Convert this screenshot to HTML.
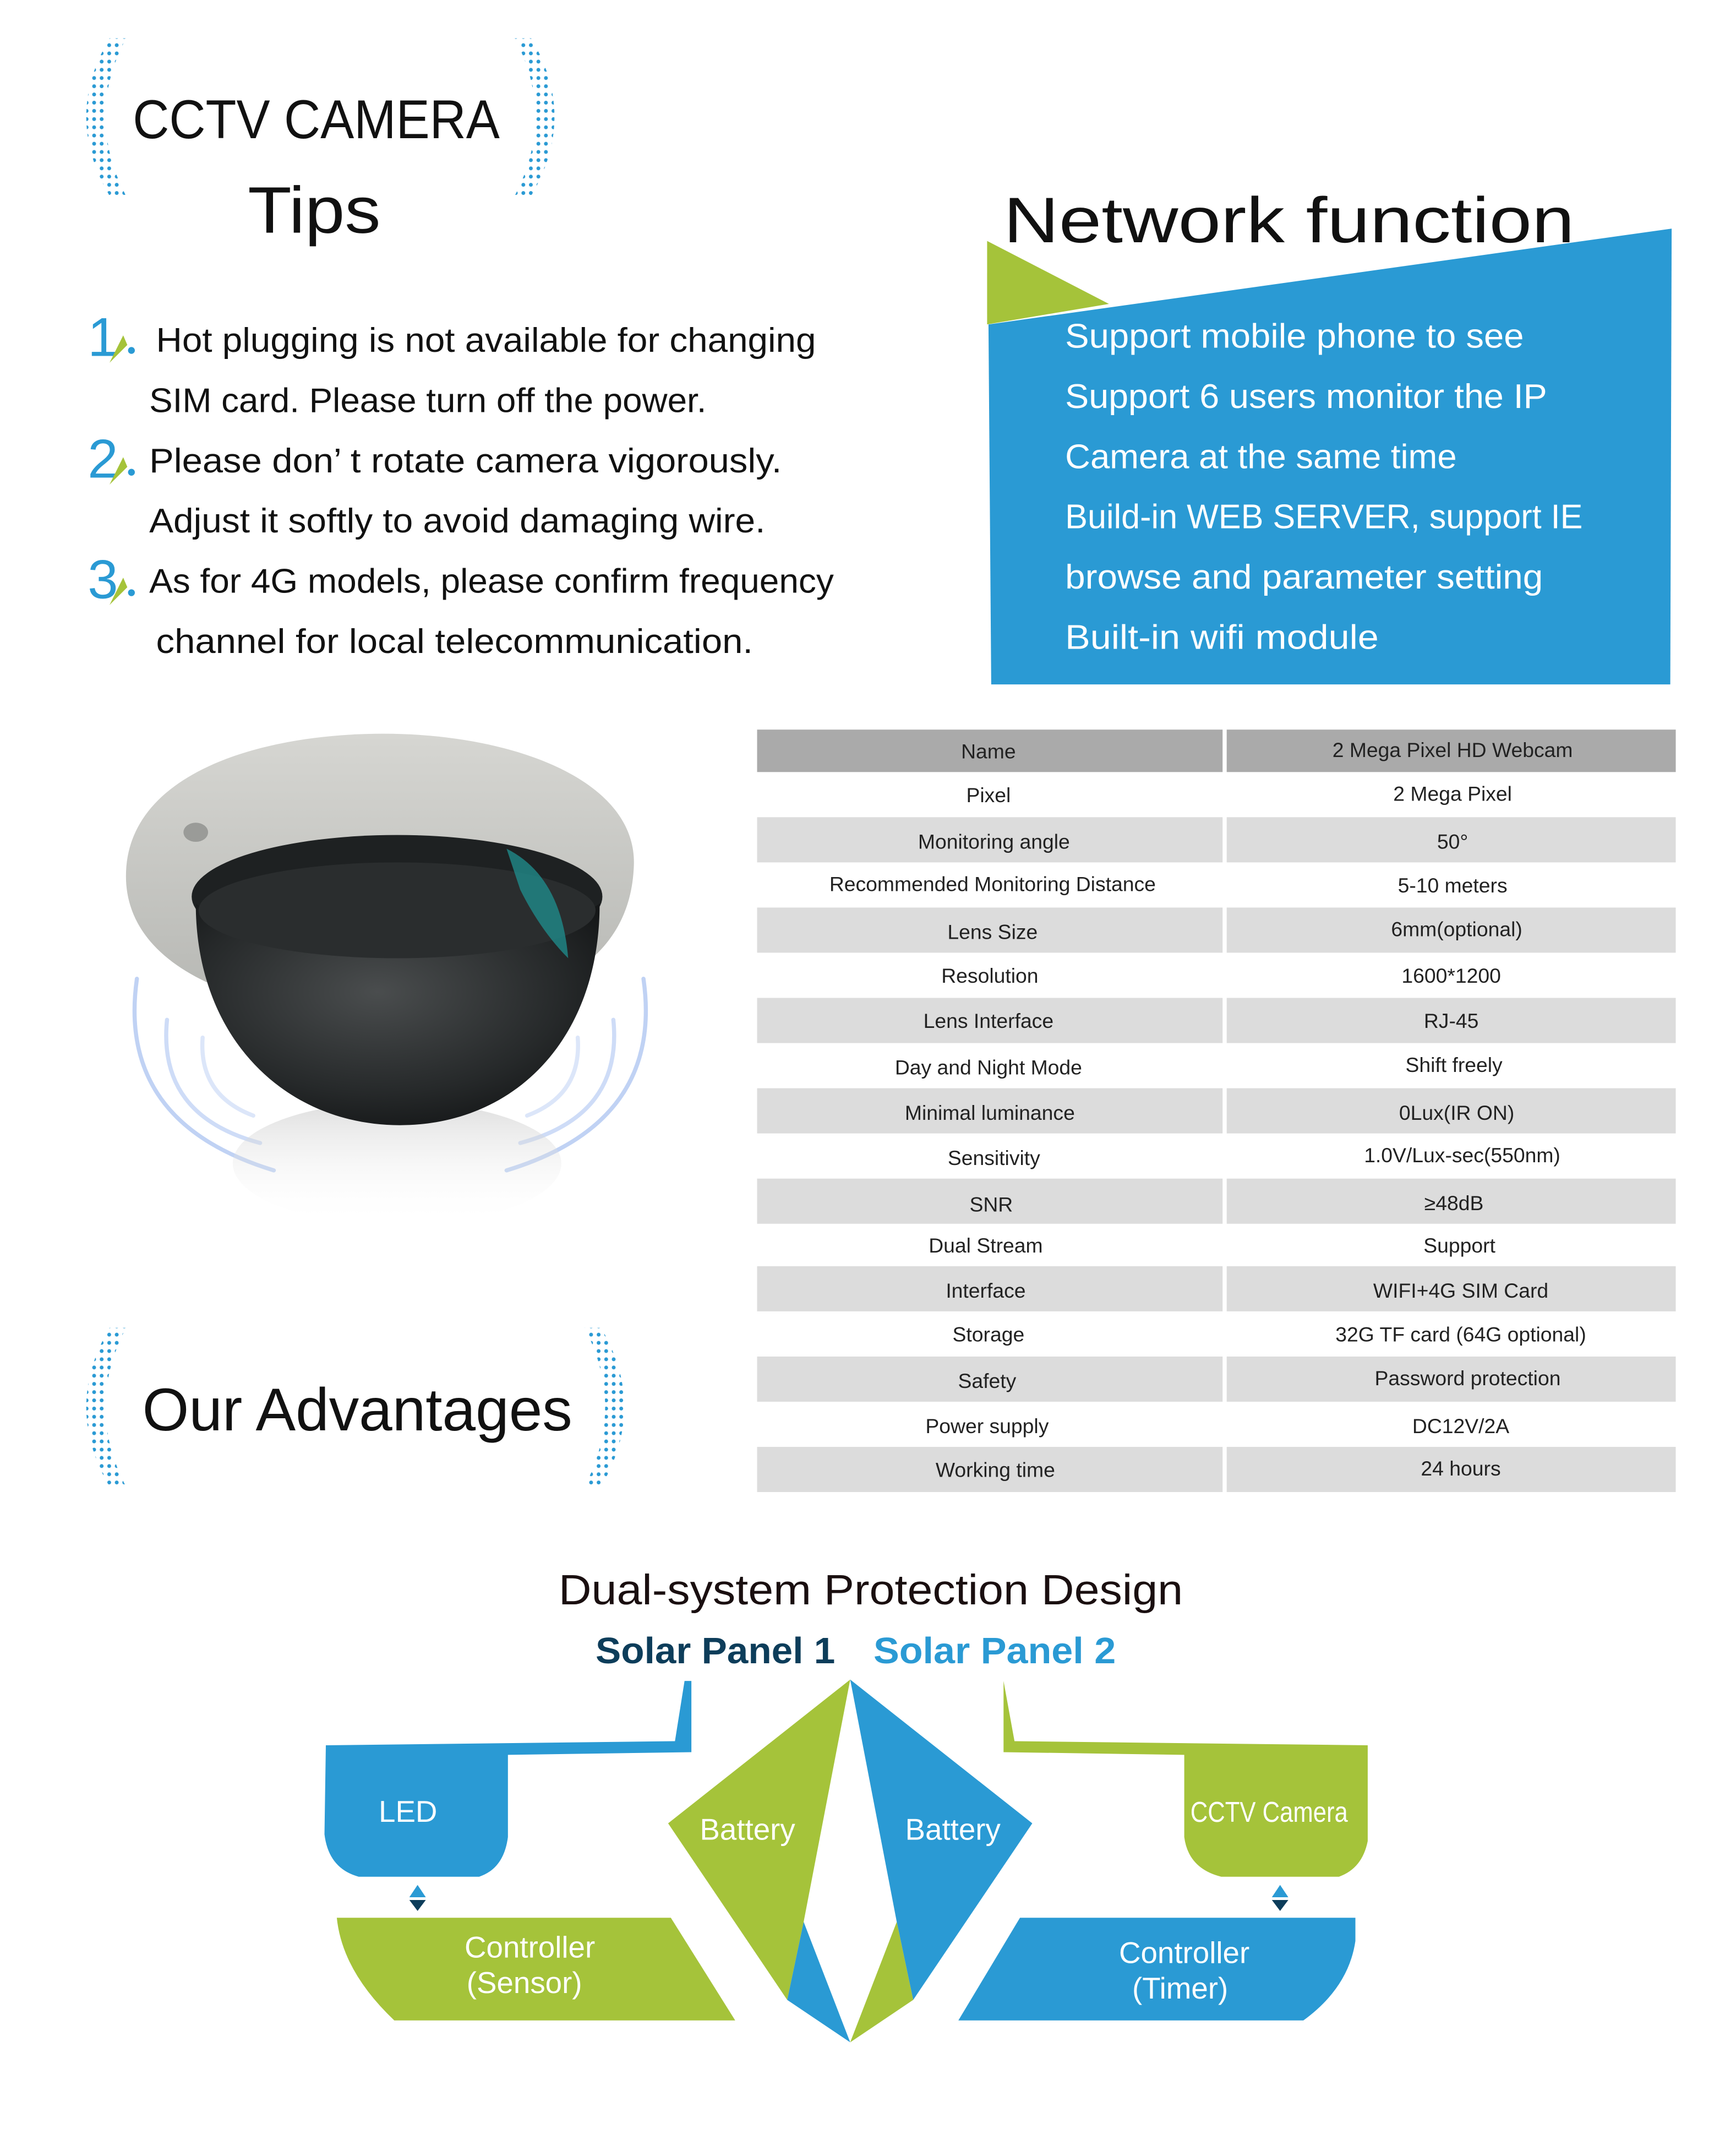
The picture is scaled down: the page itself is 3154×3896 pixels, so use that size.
<!DOCTYPE html>
<html><head><meta charset="utf-8"><style>
html,body{margin:0;padding:0;background:#fff;}
svg{display:block;}
text{font-family:"Liberation Sans",sans-serif;}
</style></head><body>
<svg width="3154" height="3896" viewBox="0 0 1268 1567" preserveAspectRatio="none" xmlns="http://www.w3.org/2000/svg">
<defs>
<pattern id="dots" width="5.5" height="6" patternUnits="userSpaceOnUse">
<circle cx="2.75" cy="3" r="1.4" fill="#2a9ad4"/>
</pattern>
<radialGradient id="dome" cx="0.45" cy="0.4" r="0.65">
<stop offset="0" stop-color="#4a4d4e"/><stop offset="0.7" stop-color="#26292a"/><stop offset="1" stop-color="#151718"/>
</radialGradient>
<linearGradient id="rim" x1="0" y1="0" x2="0" y2="1">
<stop offset="0" stop-color="#d6d6d2"/><stop offset="1" stop-color="#b5b6b2"/>
</linearGradient>
<linearGradient id="refl" x1="0" y1="0" x2="0" y2="1">
<stop offset="0" stop-color="#c8c8c8" stop-opacity="0.6"/><stop offset="1" stop-color="#fff" stop-opacity="0"/>
</linearGradient>
</defs>

<!-- bracket dots top -->
<path d="M80,28 Q46,85 80,143 L92,143 Q62,85 92,28Z" fill="url(#dots)"/>
<path d="M388,28 Q422,85 388,143 L376,143 Q406,85 376,28Z" fill="url(#dots)"/>
<text x="97" y="101" font-size="40" fill="#111" textLength="268" lengthAdjust="spacingAndGlyphs">CCTV CAMERA</text>
<text x="181" y="170" font-size="48" fill="#111" textLength="97" lengthAdjust="spacingAndGlyphs">Tips</text>

<!-- tips -->
<g font-size="25" fill="#111">
<text x="64" y="260" font-size="40" fill="#2a9ad4">1</text>
<text x="64" y="349" font-size="40" fill="#2a9ad4">2</text>
<text x="64" y="437" font-size="40" fill="#2a9ad4">3</text>
<path d="M80,265 L90,245 L93,252Z M80,354 L90,334 L93,341Z M80,442 L90,422 L93,429Z" fill="#a5c33a"/>
<circle cx="96" cy="256" r="2.5" fill="#2a9ad4"/><circle cx="96" cy="345" r="2.5" fill="#2a9ad4"/><circle cx="96" cy="433" r="2.5" fill="#2a9ad4"/>
<text x="114" y="257" textLength="482" lengthAdjust="spacingAndGlyphs">Hot plugging is not available for changing</text>
<text x="109" y="301" textLength="407" lengthAdjust="spacingAndGlyphs">SIM card. Please turn off the power.</text>
<text x="109" y="345" textLength="462" lengthAdjust="spacingAndGlyphs">Please don’  t rotate camera vigorously.</text>
<text x="109" y="389" textLength="450" lengthAdjust="spacingAndGlyphs">Adjust it softly to avoid damaging wire.</text>
<text x="109" y="433" textLength="500" lengthAdjust="spacingAndGlyphs">As for 4G models, please confirm frequency</text>
<text x="114" y="477" textLength="436" lengthAdjust="spacingAndGlyphs">channel for local telecommunication.</text>
</g>

<!-- network -->
<text x="733" y="177" font-size="47" fill="#111" textLength="417" lengthAdjust="spacingAndGlyphs">Network  function</text>
<polygon points="721,176 810,222 721,237" fill="#a5c33a"/>
<polygon points="722,237 1221,167 1220,500 724,500" fill="#2a9ad4"/>
<g font-size="25" fill="#fff">
<text x="778" y="254" textLength="335" lengthAdjust="spacingAndGlyphs">Support mobile phone to see</text>
<text x="778" y="298" textLength="352" lengthAdjust="spacingAndGlyphs">Support 6 users monitor the IP</text>
<text x="778" y="342" textLength="286" lengthAdjust="spacingAndGlyphs">Camera at the same time</text>
<text x="778" y="386" textLength="378" lengthAdjust="spacingAndGlyphs">Build-in WEB SERVER, support IE</text>
<text x="778" y="430" textLength="349" lengthAdjust="spacingAndGlyphs">browse and parameter setting</text>
<text x="778" y="474" textLength="229" lengthAdjust="spacingAndGlyphs">Built-in wifi module</text>
</g>

<!-- camera -->
<g fill="none" stroke="#b9cdf3" stroke-width="3" stroke-linecap="round">
<path d="M100,715 Q85,820 200,855" opacity="0.9"/>
<path d="M122,745 Q115,815 190,835" opacity="0.7"/>
<path d="M148,758 Q145,800 185,815" opacity="0.5"/>
<path d="M470,715 Q485,820 370,855" opacity="0.9"/>
<path d="M448,745 Q455,815 380,835" opacity="0.7"/>
<path d="M422,758 Q425,800 385,815" opacity="0.5"/>
</g>
<ellipse cx="290" cy="850" rx="120" ry="45" fill="url(#refl)"/>
<path d="M92,640 C92,565 190,536 280,536 C375,536 465,570 463,632 C461,690 420,735 290,745 C160,740 92,700 92,640Z" fill="url(#rim)"/>
<ellipse cx="290" cy="655" rx="150" ry="45" fill="#1e2122"/>
<path d="M143,660 C143,760 210,822 292,822 C375,822 438,760 438,660 C400,690 180,690 143,660Z" fill="url(#dome)"/>
<ellipse cx="290" cy="665" rx="145" ry="35" fill="#2a2d2e"/>
<path d="M370,620 Q410,640 415,700 Q395,680 380,650Z" fill="#1f8a8a" opacity="0.8"/>
<ellipse cx="143" cy="608" rx="9" ry="7" fill="#9a9b98"/>

<text x="104" y="1045" font-size="44" fill="#111" textLength="314" lengthAdjust="spacingAndGlyphs">Our  Advantages</text>
<path d="M80,970 Q46,1028 80,1086 L92,1086 Q62,1028 92,970Z" fill="url(#dots)"/>
<path d="M439,970 Q473,1028 439,1086 L427,1086 Q457,1028 427,970Z" fill="url(#dots)"/>

<!-- table -->
<g>
<rect x="553" y="533" width="340" height="31" fill="#aaaaaa"/><rect x="896" y="533" width="328" height="31" fill="#aaaaaa"/>
<rect x="553" y="597" width="340" height="33" fill="#dcdcdc"/><rect x="896" y="597" width="328" height="33" fill="#dcdcdc"/>
<rect x="553" y="663" width="340" height="33" fill="#dcdcdc"/><rect x="896" y="663" width="328" height="33" fill="#dcdcdc"/>
<rect x="553" y="729" width="340" height="33" fill="#dcdcdc"/><rect x="896" y="729" width="328" height="33" fill="#dcdcdc"/>
<rect x="553" y="795" width="340" height="33" fill="#dcdcdc"/><rect x="896" y="795" width="328" height="33" fill="#dcdcdc"/>
<rect x="553" y="861" width="340" height="33" fill="#dcdcdc"/><rect x="896" y="861" width="328" height="33" fill="#dcdcdc"/>
<rect x="553" y="925" width="340" height="33" fill="#dcdcdc"/><rect x="896" y="925" width="328" height="33" fill="#dcdcdc"/>
<rect x="553" y="991" width="340" height="33" fill="#dcdcdc"/><rect x="896" y="991" width="328" height="33" fill="#dcdcdc"/>
<rect x="553" y="1057" width="340" height="33" fill="#dcdcdc"/><rect x="896" y="1057" width="328" height="33" fill="#dcdcdc"/>
</g>
<g font-size="15" fill="#222" text-anchor="middle">
<text x="722" y="554">Name</text><text x="1061" y="553">2 Mega Pixel HD Webcam</text>
<text x="722" y="586">Pixel</text><text x="1061" y="585">2 Mega Pixel</text>
<text x="726" y="620">Monitoring angle</text><text x="1061" y="620">50°</text>
<text x="725" y="651">Recommended Monitoring Distance</text><text x="1061" y="652">5-10 meters</text>
<text x="725" y="686">Lens Size</text><text x="1064" y="684">6mm(optional)</text>
<text x="723" y="718">Resolution</text><text x="1060" y="718">1600*1200</text>
<text x="722" y="751">Lens Interface</text><text x="1060" y="751">RJ-45</text>
<text x="722" y="785">Day and Night Mode</text><text x="1062" y="783">Shift freely</text>
<text x="723" y="818">Minimal luminance</text><text x="1064" y="818">0Lux(IR ON)</text>
<text x="726" y="851">Sensitivity</text><text x="1068" y="849">1.0V/Lux-sec(550nm)</text>
<text x="724" y="885">SNR</text><text x="1062" y="884">≥48dB</text>
<text x="720" y="915">Dual Stream</text><text x="1066" y="915">Support</text>
<text x="720" y="948">Interface</text><text x="1067" y="948">WIFI+4G SIM Card</text>
<text x="722" y="980">Storage</text><text x="1067" y="980">32G TF card (64G optional)</text>
<text x="721" y="1014">Safety</text><text x="1072" y="1012">Password protection</text>
<text x="721" y="1047">Power supply</text><text x="1067" y="1047">DC12V/2A</text>
<text x="727" y="1079">Working time</text><text x="1067" y="1078">24 hours</text>
</g>

<!-- bottom diagram -->
<text x="408" y="1172" font-size="31" fill="#1a0f10" textLength="456" lengthAdjust="spacingAndGlyphs">Dual-system Protection Design</text>
<text x="435" y="1215" font-size="27" font-weight="bold" fill="#0d3d5a" textLength="175" lengthAdjust="spacingAndGlyphs">Solar  Panel  1</text>
<text x="638" y="1215" font-size="27" font-weight="bold" fill="#2a9ad4" textLength="177" lengthAdjust="spacingAndGlyphs">Solar  Panel  2</text>

<path d="M238,1275 L493,1272 L500,1228 L505,1228 L505,1280 L371,1282 L371,1342 Q368,1365 350,1371 L262,1371 Q240,1365 237,1340Z" fill="#2a9ad4"/>
<path d="M733,1228 L741,1272 L999,1275 L999,1345 Q995,1365 978,1371 L892,1371 Q868,1365 865,1342 L865,1282 L733,1280Z" fill="#a5c33a"/>
<polygon points="299,1386 305,1377 311,1386" fill="#2a9ad4"/><polygon points="299,1388 311,1388 305,1396" fill="#0d3d5a"/>
<polygon points="929,1386 935,1377 941,1386" fill="#2a9ad4"/><polygon points="929,1388 941,1388 935,1396" fill="#0d3d5a"/>
<path d="M246,1401 L490,1401 L537,1476 L288,1476 Q250,1440 246,1401Z" fill="#a5c33a"/>
<path d="M745,1401 L990,1401 L990,1418 Q985,1452 952,1476 L700,1476Z" fill="#2a9ad4"/>

<polygon points="621,1227 488,1332 575,1461 587,1404" fill="#a5c33a"/>
<polygon points="587,1404 575,1461 621,1492" fill="#2a9ad4"/>
<polygon points="621,1227 754,1332 667,1461 655,1404" fill="#2a9ad4"/>
<polygon points="655,1404 667,1461 621,1492" fill="#a5c33a"/>

<g fill="#fff" font-size="22" text-anchor="middle">
<text x="298" y="1331">LED</text>
<text x="546" y="1344">Battery</text>
<text x="696" y="1344">Battery</text>
<text x="927" y="1331" font-size="21" textLength="115" lengthAdjust="spacingAndGlyphs">CCTV Camera</text>
<text x="387" y="1430">Controller</text>
<text x="383" y="1456">(Sensor)</text>
<text x="865" y="1434">Controller</text>
<text x="862" y="1460">(Timer)</text>
</g>
</svg>
</body></html>
